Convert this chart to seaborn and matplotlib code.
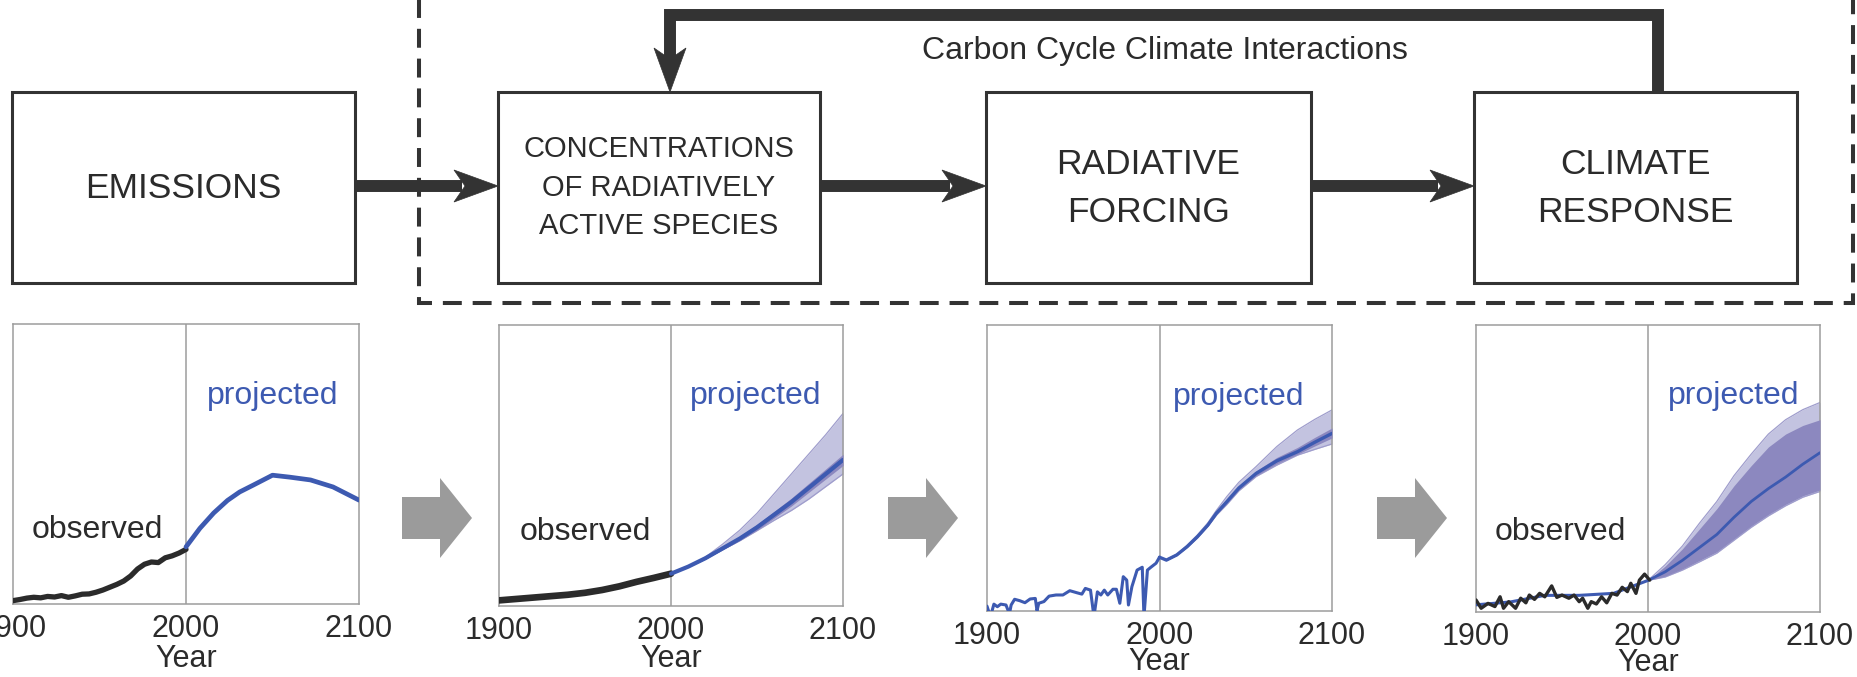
import matplotlib
matplotlib.use("Agg")
import matplotlib.pyplot as plt
from matplotlib.patches import Rectangle, Polygon
from matplotlib.lines import Line2D
import seaborn as sns

# ---------------------------------------------------------------- data
# Emissions
em_obs_year = [1900, 1904, 1908, 1912, 1916, 1920, 1924, 1928, 1932, 1936, 1940, 1944, 1948,
               1952, 1956, 1960, 1964, 1968, 1972, 1976, 1980, 1984, 1988, 1992, 1996, 2000]
em_obs = [0.012, 0.016, 0.021, 0.024, 0.022, 0.027, 0.025, 0.030, 0.024, 0.029, 0.035, 0.036, 0.042,
          0.050, 0.060, 0.070, 0.082, 0.100, 0.125, 0.142, 0.150, 0.148, 0.165, 0.172, 0.182, 0.195]
em_proj_year = [2000, 2008, 2016, 2024, 2031, 2039, 2050, 2060, 2072, 2085, 2100]
em_proj = [0.204, 0.270, 0.325, 0.370, 0.400, 0.425, 0.460, 0.453, 0.443, 0.418, 0.371]

# Concentrations
conc_obs_year = [1900, 1910, 1920, 1930, 1940, 1950, 1960, 1970, 1980, 1990, 2000]
conc_obs = [0.020, 0.025, 0.030, 0.035, 0.040, 0.047, 0.057, 0.070, 0.086, 0.100, 0.115]
conc_year = [2000, 2010, 2020, 2030, 2040, 2050, 2060, 2070, 2080, 2090, 2100]
conc_mid = [0.115, 0.140, 0.170, 0.205, 0.240, 0.280, 0.325, 0.370, 0.420, 0.470, 0.520]
conc_hi = [0.115, 0.141, 0.174, 0.220, 0.270, 0.330, 0.400, 0.470, 0.540, 0.610, 0.685]
conc_lo = [0.115, 0.139, 0.167, 0.200, 0.232, 0.268, 0.305, 0.340, 0.380, 0.425, 0.470]
conc_in_hi = [0.115, 0.141, 0.173, 0.210, 0.248, 0.290, 0.337, 0.384, 0.436, 0.488, 0.540]
conc_in_lo = [0.115, 0.139, 0.167, 0.200, 0.233, 0.270, 0.313, 0.356, 0.404, 0.452, 0.500]

# Radiative forcing
rf_obs_year = [1900, 1902, 1904, 1906, 1908, 1911, 1913, 1914, 1916, 1919, 1922, 1925, 1928, 1929,
               1930, 1933, 1936, 1940, 1944, 1948, 1952, 1955, 1957, 1960, 1962, 1964, 1966,
               1968, 1970, 1973, 1975, 1977, 1979, 1981, 1982, 1984, 1987, 1990, 1991, 1993,
               1995, 1998, 2000]
rf_obs = [0.017, -0.02, 0.024, 0.015, 0.024, 0.021, -0.01, 0.021, 0.041, 0.036, 0.029, 0.042, 0.044,
          0.001, 0.027, 0.033, 0.052, 0.056, 0.056, 0.071, 0.064, 0.059, 0.079, 0.073, -0.02,
          0.067, 0.056, 0.073, 0.056, 0.076, 0.076, 0.027, 0.120, 0.108, 0.021, 0.085, 0.143,
          0.153, -0.02, 0.143, 0.153, 0.167, 0.188]
rf_year = [2000, 2004, 2010, 2016, 2022, 2028, 2033, 2039, 2046, 2056, 2068, 2080, 2090, 2100]
rf_mid = [0.188, 0.178, 0.196, 0.225, 0.260, 0.300, 0.342, 0.382, 0.430, 0.481, 0.525, 0.557, 0.590, 0.621]
rf_hi = [0.188, 0.180, 0.198, 0.230, 0.266, 0.308, 0.352, 0.400, 0.450, 0.505, 0.575, 0.633, 0.670, 0.703]
rf_lo = [0.188, 0.176, 0.194, 0.222, 0.255, 0.296, 0.335, 0.372, 0.420, 0.470, 0.510, 0.545, 0.565, 0.584]
rf_in_hi = [0.188, 0.179, 0.197, 0.227, 0.262, 0.303, 0.346, 0.388, 0.437, 0.490, 0.537, 0.572, 0.607, 0.640]
rf_in_lo = [0.188, 0.177, 0.195, 0.223, 0.258, 0.297, 0.338, 0.376, 0.423, 0.473, 0.515, 0.548, 0.577, 0.605]

# Climate response
tas_obs_year = [1900, 1903, 1907, 1911, 1914, 1916, 1919, 1923, 1926, 1929, 1931, 1934, 1937, 1940,
                1944, 1947, 1950, 1954, 1957, 1960, 1962, 1965, 1967, 1970, 1973, 1976, 1979,
                1982, 1985, 1988, 1990, 1993, 1995, 1998, 2001]
tas_obs = [0.042, 0.013, 0.030, 0.019, 0.053, 0.013, 0.036, 0.013, 0.048, 0.032, 0.059, 0.044,
           0.065, 0.053, 0.091, 0.051, 0.059, 0.048, 0.059, 0.036, 0.048, 0.013, 0.036, 0.028,
           0.053, 0.032, 0.065, 0.059, 0.086, 0.071, 0.100, 0.065, 0.111, 0.132, 0.111]
tas_model_year = [1900, 1920, 1940, 1960, 1980, 2000]
tas_model = [0.025, 0.035, 0.058, 0.058, 0.065, 0.110]
tas_year = [2000, 2010, 2020, 2030, 2040, 2050, 2060, 2070, 2080, 2090, 2100]
tas_mid = [0.110, 0.140, 0.180, 0.225, 0.270, 0.330, 0.385, 0.430, 0.470, 0.515, 0.555]
tas_in_hi = [0.110, 0.160, 0.220, 0.290, 0.360, 0.440, 0.510, 0.575, 0.620, 0.650, 0.670]
tas_in_lo = [0.110, 0.125, 0.150, 0.180, 0.210, 0.255, 0.300, 0.340, 0.375, 0.405, 0.425]
tas_out_hi = [0.110, 0.165, 0.230, 0.310, 0.385, 0.475, 0.550, 0.620, 0.670, 0.705, 0.730]
tas_out_lo = [0.110, 0.122, 0.146, 0.175, 0.205, 0.250, 0.295, 0.335, 0.370, 0.400, 0.420]

box_labels = [["EMISSIONS"],
              ["CONCENTRATIONS", "OF RADIATIVELY", "ACTIVE SPECIES"],
              ["RADIATIVE", "FORCING"],
              ["CLIMATE", "RESPONSE"]]
feedback_label = "Carbon Cycle Climate Interactions"
year_ticks = [1900, 2000, 2100]

# ---------------------------------------------------------------- style
sns.set_theme(style="white")
plt.rcParams["font.family"] = ["Liberation Sans", "DejaVu Sans"]

W, H = 1858, 677
INK = "#2b2b2b"
DARK = "#333333"
BLUE = "#3d5ab1"
FRAME = "#9c9c9c"
BAND = "#c3c3e0"
BAND_EDGE = "#9f9dcc"
BAND_IN = "#8c88bf"
GREY_ARROW = "#9b9b9b"

fig = plt.figure(figsize=(W / 100, H / 100), dpi=100)
fig.patch.set_facecolor("white")

# overlay in pixel units for the flow diagram
ov = fig.add_axes([0, 0, 1, 1])
ov.set_xlim(0, W)
ov.set_ylim(H, 0)
ov.axis("off")

box_x = [(12, 355), (498, 820), (986, 1311), (1474, 1797)]
box_top, box_bot = 92, 283
for (x0, x1), lines in zip(box_x, box_labels):
    ov.add_patch(Rectangle((x0, box_top), x1 - x0, box_bot - box_top,
                           fill=False, ec=DARK, lw=2.2, zorder=3))
    xc = (x0 + x1) / 2
    if len(lines) == 1:
        ov.text(xc, 198, lines[0], ha="center", va="baseline", fontsize=25.5, color=INK)
    elif len(lines) == 2:
        for ln, yb in zip(lines, [174, 222]):
            ov.text(xc, yb, ln, ha="center", va="baseline", fontsize=25.5, color=INK)
    else:
        for ln, yb in zip(lines, [157, 196, 234]):
            ov.text(xc, yb, ln, ha="center", va="baseline", fontsize=21, color=INK)

# dashed frame around the coupled components
ov.add_line(Line2D([419, 419, 1853, 1853], [-5, 303, 303, -5], color=DARK, lw=2.9,
                   linestyle=(0, (4.7, 2.7)), solid_joinstyle="miter", dash_joinstyle="miter",
                   zorder=2))


def head(tip_x, tip_y, direction):
    L, Wd, notch = 44, 16, 33
    if direction == "right":
        pts = [(tip_x, tip_y), (tip_x - L, tip_y - Wd), (tip_x - notch, tip_y), (tip_x - L, tip_y + Wd)]
    else:  # down
        pts = [(tip_x, tip_y), (tip_x - Wd, tip_y - L), (tip_x, tip_y - notch), (tip_x + Wd, tip_y - L)]
    ov.add_patch(Polygon(pts, closed=True, fc=DARK, ec=DARK, lw=0.5, zorder=4))


arrow_y = 186
for (a0, a1), (b0, b1) in zip(box_x[:-1], box_x[1:]):
    ov.add_line(Line2D([a1, b0 - 36], [arrow_y, arrow_y], color=DARK, lw=8.6,
                       solid_capstyle="butt", zorder=4))
    head(b0, arrow_y, "right")

# feedback loop over the top
ov.add_line(Line2D([1658, 1658, 670, 670], [box_top, 15, 15, 60], color=DARK, lw=8.6,
                   solid_capstyle="butt", solid_joinstyle="miter", zorder=4))
head(670, box_top, "down")
ov.text(1165, 59, feedback_label, ha="center", va="baseline", fontsize=23, color=INK)

# ---------------------------------------------------------------- panels
panel_x = [(13, 359), (499, 843), (987, 1332), (1476, 1820)]
panel_y = [(324, 604), (325, 606), (325, 611), (325, 612)]
label_y = [-0.142, -0.136, -0.127, -0.126]

# grey block arrows between the time series panels
for (a0, a1), (b0, b1) in zip(panel_x[:-1], panel_x[1:]):
    xc = (a1 + b0) / 2 + 8
    x0, yc = xc - 35, 518
    pts = [(x0, yc - 21), (x0 + 38, yc - 21), (x0 + 38, yc - 40), (x0 + 70, yc),
           (x0 + 38, yc + 40), (x0 + 38, yc + 21), (x0, yc + 21)]
    ov.add_patch(Polygon(pts, closed=True, fc=GREY_ARROW, ec="none", zorder=1))

axes = []
for (x0, x1), (y0, y1), ly in zip(panel_x, panel_y, label_y):
    ax = fig.add_axes([x0 / W, 1 - y1 / H, (x1 - x0) / W, (y1 - y0) / H])
    ax.set_facecolor("none")
    ax.set_xlim(1900, 2100)
    ax.set_ylim(0, 1)
    ax.set_xticks(year_ticks)
    ax.set_xticklabels([str(t) for t in year_ticks])
    ax.set_yticks([])
    ax.tick_params(axis="x", length=0, pad=7, labelsize=22, labelcolor=INK)
    for sp in ax.spines.values():
        sp.set_visible(True)
        sp.set_color(FRAME)
        sp.set_linewidth(1.1)
    ax.axvline(2000, color=FRAME, lw=1.1, zorder=1)
    ax.set_xlabel("Year", fontsize=22, color=INK)
    ax.xaxis.set_label_coords(0.5, ly)
    ax.set_ylabel("")
    axes.append(ax)


def band(ax, yrs, lo, hi, color, edge=None, z=2):
    ax.fill_between(yrs, lo, hi, color=color, lw=0, zorder=z)
    if edge is not None:
        sns.lineplot(x=yrs, y=hi, ax=ax, color=edge, lw=0.9, zorder=z + 0.1)
        sns.lineplot(x=yrs, y=lo, ax=ax, color=edge, lw=0.9, zorder=z + 0.1)


# emissions
ax = axes[0]
sns.lineplot(x=em_obs_year, y=em_obs, ax=ax, color=INK, lw=3.8, zorder=4)
sns.lineplot(x=em_proj_year, y=em_proj, ax=ax, color=BLUE, lw=3.4, zorder=4)

# concentrations
ax = axes[1]
band(ax, conc_year, conc_lo, conc_hi, BAND, BAND_EDGE)
band(ax, conc_year, conc_in_lo, conc_in_hi, BAND_IN, z=3)
sns.lineplot(x=conc_obs_year, y=conc_obs, ax=ax, color=INK, lw=4.8, zorder=4)
sns.lineplot(x=conc_year, y=conc_mid, ax=ax, color=BLUE, lw=3.0, zorder=4)

# radiative forcing
ax = axes[2]
band(ax, rf_year, rf_lo, rf_hi, BAND, BAND_EDGE)
band(ax, rf_year, rf_in_lo, rf_in_hi, BAND_IN, z=3)
sns.lineplot(x=rf_obs_year, y=rf_obs, ax=ax, color=BLUE, lw=2.2, zorder=4)
sns.lineplot(x=rf_year, y=rf_mid, ax=ax, color=BLUE, lw=2.4, zorder=4)

# climate response
ax = axes[3]
band(ax, tas_year, tas_out_lo, tas_out_hi, BAND, BAND_EDGE)
band(ax, tas_year, tas_in_lo, tas_in_hi, BAND_IN, z=3)
sns.lineplot(x=tas_model_year, y=tas_model, ax=ax, color=BLUE, lw=2.2, zorder=3)
sns.lineplot(x=tas_year, y=tas_mid, ax=ax, color=BLUE, lw=2.0, zorder=4)
sns.lineplot(x=tas_obs_year, y=tas_obs, ax=ax, color=INK, lw=2.4, zorder=5)

# annotations
obs_pos = [(1949, 0.264), (1950, 0.263), None, (1949, 0.28)]
proj_pos = [(2050, 0.743), (2049, 0.747), (2046, 0.75), (2050, 0.753)]
for ax, op, pp in zip(axes, obs_pos, proj_pos):
    if op is not None:
        ax.text(op[0], op[1], "observed", ha="center", va="center", fontsize=23, color=INK, zorder=6)
    ax.text(pp[0], pp[1], "projected", ha="center", va="center", fontsize=23, color=BLUE, zorder=6)

fig.savefig("out.png", dpi=100, facecolor="white")
